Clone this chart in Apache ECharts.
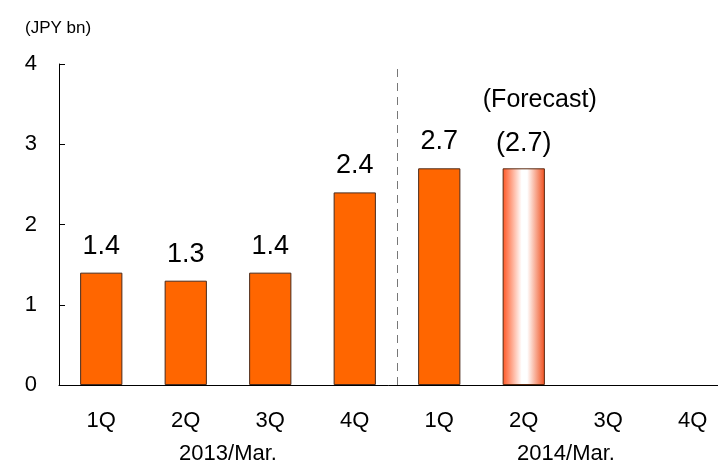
<!DOCTYPE html>
<html>
<head>
<meta charset="utf-8">
<script src="https://cdn.jsdelivr.net/npm/echarts@6/dist/echarts.min.js"></script>
<style>
html,body{margin:0;padding:0;background:#fff;}
#c{width:718px;height:463px;}
</style>
</head>
<body>
<div id="c"></div>
<script>
var quarters = ['1Q','2Q','3Q','4Q','1Q','2Q','3Q','4Q'];
var fiscalYears = ['2013/Mar.','2014/Mar.'];
var profit = [1.4, 1.3, 1.4, 2.4, 2.7, 2.7, null, null];
var isForecast = [false, false, false, false, false, true, false, false];
var yTicks = [0, 1, 2, 3, 4];
var unitLabel = '(JPY bn)';
var forecastLabel = '(Forecast)';
var dividerAt = 4;

var FONT = '"Liberation Sans", Arial, sans-serif';

var barData = profit.map(function (v, i) {
  if (v === null) return null;
  var item = { value: v };
  if (isForecast[i]) {
    item.itemStyle = {
      color: {
        type: 'linear', x: 0, y: 0, x2: 1, y2: 0,
        colorStops: [
          { offset: 0, color: '#ff5522' },
          { offset: 0.45, color: '#ffffff' },
          { offset: 0.58, color: '#ffffff' },
          { offset: 1, color: '#f04e1c' }
        ]
      },
      borderColor: '#5a2a10',
      borderWidth: 1
    };
    item.label = {
      formatter: '{f|' + forecastLabel + '}\n{v|(' + v.toFixed(1) + ')}'
    };
  }
  return item;
});

var chart = echarts.init(document.getElementById('c'), null, { renderer: 'canvas' });
chart.setOption({
  animation: false,
  backgroundColor: '#ffffff',
  textStyle: { fontFamily: FONT },
  title: {
    text: unitLabel,
    left: 20,
    top: 15,
    textStyle: { fontFamily: FONT, fontSize: 17, fontWeight: 'normal', color: '#000' }
  },
  grid: { left: 59, right: -17, top: 64, bottom: 78, containLabel: false, outerBoundsMode: 'none' },
  xAxis: [
    {
      type: 'category',
      data: quarters,
      position: 'bottom',
      axisLine: { show: true, lineStyle: { color: '#000', width: 1 } },
      axisTick: { show: false },
      axisLabel: { margin: 25, fontSize: 22, color: '#000', fontFamily: FONT },
      splitLine: { show: false }
    },
    {
      type: 'category',
      data: fiscalYears,
      position: 'bottom',
      axisLine: { show: false },
      axisTick: { show: false },
      axisLabel: { margin: 58, fontSize: 22, color: '#000', fontFamily: FONT },
      splitLine: { show: false }
    },
    {
      type: 'value',
      min: 0,
      max: quarters.length,
      show: false
    }
  ],
  yAxis: {
    type: 'value',
    min: yTicks[0],
    max: yTicks[yTicks.length - 1],
    interval: 1,
    axisLine: { show: true, lineStyle: { color: '#000', width: 1 } },
    axisTick: { show: true, inside: true, length: 6, lineStyle: { color: '#000' } },
    axisLabel: { margin: 22, fontSize: 22, color: '#000', fontFamily: FONT },
    splitLine: { show: false }
  },
  series: [
    {
      type: 'bar',
      xAxisIndex: 0,
      yAxisIndex: 0,
      data: barData,
      barWidth: '50%',
      itemStyle: { color: '#ff6600', borderColor: '#4a2a1a', borderWidth: 1 },
      label: {
        show: true,
        position: 'top',
        distance: 13,
        fontSize: 27,
        color: '#000',
        fontFamily: FONT,
        formatter: function (p) { return p.value.toFixed(1); },
        rich: {
          f: { fontSize: 25, color: '#000', fontFamily: FONT, lineHeight: 62, padding: [0, 0, 0, 32] },
          v: { fontSize: 27, color: '#000', fontFamily: FONT, lineHeight: 24 }
        }
      }
    },
    {
      type: 'line',
      xAxisIndex: 2,
      yAxisIndex: 0,
      data: [],
      silent: true,
      markLine: {
        silent: true,
        symbol: ['none', 'none'],
        label: { show: false },
        lineStyle: { color: '#777', type: [8, 6], width: 1 },
        data: [[{ coord: [dividerAt, yTicks[0]] }, { coord: [dividerAt, yTicks[yTicks.length - 1]] }]]
      }
    }
  ]
});
</script>
</body>
</html>
